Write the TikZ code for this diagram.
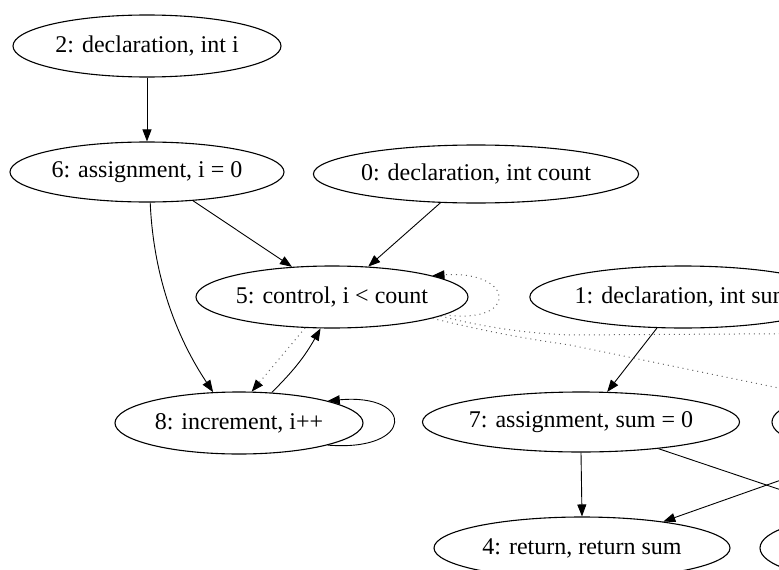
\documentclass[tikz,border=0pt]{standalone}
\usepackage{fontspec}
\setmainfont{Liberation Serif}
\usetikzlibrary{arrows.meta,shapes.geometric}
\begin{document}
\begin{tikzpicture}[x=1pt,y=-1pt,
  gnode/.style={draw, ellipse, line width=1.1pt, inner sep=0pt, fill=white, font=\fontsize{24}{28}\selectfont},
  arr/.style={line width=0.9pt, -{Triangle[length=12pt,width=9pt]}},
  dep/.style={line width=1pt, dash pattern=on 1pt off 4pt, black!60},
  deparr/.style={dep, -{Triangle[length=12pt,width=9pt,color=black]}}
]
\useasboundingbox (0,0) rectangle (779,570);
\clip (0,0) rectangle (779,570);

% off-picture ends
\coordinate (r1) at (900,333);
\coordinate (r2) at (900,413);
\coordinate (r3) at (900,530);
\coordinate (r4) at (900,438);

\node[gnode, minimum width=268pt, minimum height=62pt] (n2) at (147,46) {2: declaration, int i};
\node[gnode, minimum width=274pt, minimum height=60pt] (n6) at (147,172) {6: assignment, i = 0};
\node[gnode, minimum width=322pt, minimum height=58pt] (n0) at (476,174) {0: declaration, int count};
\node[gnode, minimum width=272pt, minimum height=62pt] (n5) at (332,297) {5: control, i < count};
\node[gnode, minimum width=306pt, minimum height=62pt] (n1) at (683,297) {1: declaration, int sum};
\node[gnode, minimum width=248pt, minimum height=62pt] (n8) at (239,423) {8: increment, i++};
\node[gnode, minimum width=312pt, minimum height=60pt] (n7) at (581,422) {7: assignment, sum = 0};
\node[gnode, minimum width=296pt, minimum height=62pt] (n4) at (582,548) {4: return, return sum};
\node[gnode, minimum width=200pt, minimum height=60pt] (nR1) at (872,422) {};
\node[gnode, minimum width=200pt, minimum height=62pt] (nR2) at (860,548) {};

% solid control edges
\draw[arr] (n2.south) -- (n6.north);
\draw[arr] (n6.-32) -- (n5.143.6);
\draw[arr] (n0.-141) -- (n5.40.6);
\draw[arr] (n6.-84) .. controls (154,290) and (185,350) .. (n8.130);
\draw[arr] (n8.43) to[bend right=8] (n5.-110);
\draw[arr] (n8.-14) .. controls (415,452) and (415,393) .. (n8.14);
\draw[arr] (n1.-130) -- (n7.49);
\draw[arr] (n7.south) -- (n4.north);
\draw[line width=0.9pt] (n7.-19) -- (r3);
\draw[arr] (r4) -- (n4.18);

% dotted dependency edges
\draw[deparr] (n5.-131.6) -- (n8.68);
\draw[deparr] (n5.-9) .. controls (520,325) and (515,270) .. (n5.12);
\draw[dep] (n5.-10) .. controls (480,326) and (520,333) .. (570,335) -- (r1);
\draw[dep] (n5.-12) .. controls (480,330) and (520,338) .. (570,345) -- (r2);
\end{tikzpicture}
\end{document}
